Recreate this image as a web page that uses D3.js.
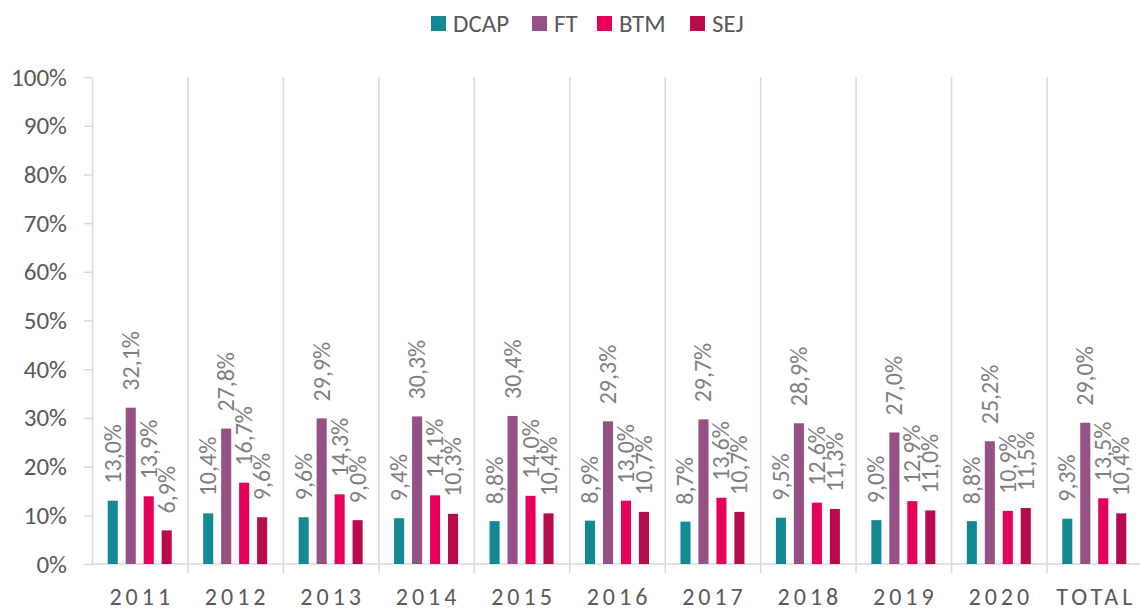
<!DOCTYPE html>
<html>
<head>
<meta charset="utf-8">
<script src="https://cdn.jsdelivr.net/npm/d3@7"></script>
<style>
  body { margin: 0; background: #fff; }
  text { font-family: Calibri, Carlito, Lato, sans-serif; }
</style>
</head>
<body>
<svg id="chart" width="1140" height="610"></svg>
<script>
// data
var categories = ['2011', '2012', '2013', '2014', '2015', '2016', '2017', '2018', '2019', '2020', 'TOTAL'];
var seriesNames = ['DCAP', 'FT', 'BTM', 'SEJ'];
var seriesColors = ['#138a93', '#955086', '#e6005c', '#b80b4d'];
var dcap = [13.0, 10.4, 9.6, 9.4, 8.8, 8.9, 8.7, 9.5, 9.0, 8.8, 9.3];
var ft   = [32.1, 27.8, 29.9, 30.3, 30.4, 29.3, 29.7, 28.9, 27.0, 25.2, 29.0];
var btm  = [13.9, 16.7, 14.3, 14.1, 14.0, 13.0, 13.6, 12.6, 12.9, 10.9, 13.5];
var sej  = [6.9, 9.6, 9.0, 10.3, 10.4, 10.7, 10.7, 11.3, 11.0, 11.5, 10.4];
var yTicks = [0, 10, 20, 30, 40, 50, 60, 70, 80, 90, 100];

var series = [dcap, ft, btm, sej];

var margins = {left: 92, right: -2, top: 77, bottom: 46};
var width = 1140, height = 610;

var svg = d3.select('#chart');

var x = d3.scaleBand()
  .domain(categories)
  .range([margins.left, width - margins.right]);

var x1 = d3.scaleBand()
  .domain(seriesNames)
  .range([0, 64])
  .paddingInner(0.44);

var y = d3.scaleLinear()
  .domain([0, 100])
  .range([height - margins.bottom, margins.top]);

var fmt = function(v) { return v.toFixed(1).replace('.', ',') + '%'; };

// vertical separators between categories
svg.append('g')
  .selectAll('line')
  .data(categories.slice(1))
  .enter().append('line')
  .attr('x1', function(d) { return x(d) + 0.5; })
  .attr('x2', function(d) { return x(d) + 0.5; })
  .attr('y1', y(100))
  .attr('y2', y(0) + 9)
  .attr('stroke', '#d9d9d9')
  .attr('stroke-width', 1.5);

// y axis
var yAxis = svg.append('g')
  .attr('transform', 'translate(' + margins.left + ',0)')
  .call(d3.axisLeft(y).tickValues(yTicks).tickSize(8).tickSizeOuter(0)
    .tickFormat(function(d) { return d + '%'; }));
yAxis.select('.domain').attr('stroke', '#d9d9d9').attr('stroke-width', 1.5);
yAxis.selectAll('.tick line').attr('stroke', '#d9d9d9').attr('stroke-width', 1.5);
yAxis.selectAll('.tick text')
  .attr('x', -25)
  .attr('fill', '#595959')
  .style('font-size', '25px');

// x axis baseline
svg.append('line')
  .attr('x1', margins.left)
  .attr('x2', width)
  .attr('y1', y(0))
  .attr('y2', y(0))
  .attr('stroke', '#d9d9d9')
  .attr('stroke-width', 1.5);

// category labels
svg.append('g')
  .selectAll('text')
  .data(categories)
  .enter().append('text')
  .attr('x', function(d) { return x(d) + x.bandwidth() / 2 + 2; })
  .attr('y', 605)
  .attr('text-anchor', 'middle')
  .attr('fill', '#595959')
  .style('font-size', '24px')
  .style('letter-spacing', '4px')
  .text(function(d) { return d; });

// bars
var groups = svg.append('g')
  .selectAll('g')
  .data(categories)
  .enter().append('g')
  .attr('transform', function(d) { return 'translate(' + (x(d) + x.bandwidth() / 2 - 32) + ',0)'; });

var cells = groups.selectAll('g')
  .data(function(d, i) {
    return seriesNames.map(function(s, j) { return {key: s, value: series[j][i], color: seriesColors[j]}; });
  })
  .enter().append('g');

cells.append('rect')
  .attr('x', function(d) { return x1(d.key); })
  .attr('y', function(d) { return y(d.value); })
  .attr('width', x1.bandwidth())
  .attr('height', function(d) { return y(0) - y(d.value); })
  .attr('fill', function(d) { return d.color; });

cells.append('text')
  .attr('transform', function(d) {
    return 'translate(' + (x1(d.key) + x1.bandwidth() / 2 + 8) + ',' + (y(d.value) - 17) + ') rotate(-90)';
  })
  .attr('fill', '#7f7f7f')
  .style('font-size', '24px')
  .text(function(d) { return fmt(d.value); });

// legend
var legendX = [431, 532, 597, 690];
var legend = svg.append('g')
  .selectAll('g')
  .data(seriesNames)
  .enter().append('g')
  .attr('transform', function(d, i) { return 'translate(' + legendX[i] + ',16)'; });
legend.append('rect')
  .attr('width', 15)
  .attr('height', 15)
  .attr('fill', function(d, i) { return seriesColors[i]; });
legend.append('text')
  .attr('x', 22)
  .attr('y', 16)
  .attr('fill', '#595959')
  .style('font-size', '25px')
  .text(function(d) { return d; });
</script>
</body>
</html>
